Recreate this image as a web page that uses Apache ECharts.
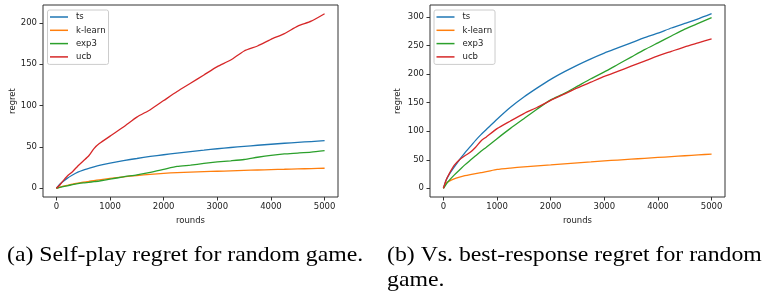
<!DOCTYPE html>
<html>
<head>
<meta charset="utf-8">
<script src="https://cdn.jsdelivr.net/npm/echarts@6/dist/echarts.min.js"></script>
<style>
html,body{margin:0;padding:0;background:#fff;}
#c{width:764px;height:294px;}
</style>
</head>
<body>
<div id="c"></div>
<script>
// ---- data ----
const rounds = [0,50,100,200,300,400,500,600,700,800,1000,1250,1500,1750,2000,2250,2500,2750,3000,3250,3500,3750,4000,4250,4500,4750,5000];
const seriesNames = ['ts','k-learn','exp3','ucb'];
const xTicks = [0,1000,2000,3000,4000,5000];
const yTicksA = [0,50,100,150,200];
const yTicksB = [0,50,100,150,200,250,300];

// (a) self-play
const tsA     = [0,4,7,12,16,19.5,22,24,26,27.8,30.5,33.5,36,38.5,40.5,42.5,44.3,46,47.8,49.3,50.7,52,53.2,54.4,55.5,56.5,57.5];
const klearnA = [0,1,2,3.5,5,6.2,7.3,8.3,9.3,10.2,12,13.8,15.4,16.9,18.1,19,19.6,20.1,20.6,21.1,21.6,22.1,22.6,23,23.4,23.8,24.2];
const exp3A   = [0,0.8,1.6,3,4.3,5.5,6.5,7.2,8,8.8,11,13.8,16.2,19.2,22.8,26.4,28,30,31.8,33.2,34.8,37.5,39.8,41.5,42.6,43.8,45.6];
const ucbA    = [0,3,7,14.5,20,27,33,39,48,54,63,74,86,95,106,117,127,137,147,155,166,172,180,187,196,202,211];

// (b) vs. best-response
const tsB     = [0,14,23,37,50,62,73,84,94,103,121,142,160,176,191,204,216,227,237,246,255,264,272,281,289,297,306];
const klearnB = [0,9,12,16.5,19.5,22,24,25.8,27.5,29,33,35.5,37.5,39.3,41,42.8,44.5,46.2,48,49.5,51,52.5,54,55.5,57,58.5,60];
const exp3B   = [0,7,13,23,32,41,49,57,65,72,87,105,122,139,155,166,179,192,204,217,230,243,255,267,279,289,299];
const ucbB    = [0,14,24,40,50,57,63,72,83,90,104.5,118,131,142,154,165,176,186,196,205,214,223,232,240,248,255,262];

const captionA = '(a) Self-play regret for random game.';
const captionB1 = '(b) Vs. best-response regret for random';
const captionB2 = 'game.';

// ---- chart ----
const colors = ['#1f77b4','#ff7f0e','#2ca02c','#d62728'];
const tickFont = {fontFamily:'DejaVu Sans', fontSize:8.5, color:'#222'};

function pairs(v){ return rounds.map((r,i)=>[r, v[i]]); }
function plain(v){ return String(v); }

function xAxis(gi){
  return {
    type:'value', gridIndex:gi, min:-250, max:5250,
    name:'rounds', nameLocation:'middle', nameGap:16,
    nameTextStyle:Object.assign({}, tickFont),
    axisLine:{show:false, onZero:false},
    axisTick:{show:true, inside:false, length:3.5, lineStyle:{color:'#333', width:1}, customValues:xTicks},
    axisLabel:Object.assign({show:true, margin:5, customValues:xTicks, formatter:plain}, tickFont),
    splitLine:{show:false}
  };
}
function yAxis(gi, min, max, ticks, gap){
  return {
    type:'value', gridIndex:gi, min:min, max:max,
    name:'regret', nameLocation:'middle', nameGap:gap, nameRotate:90,
    nameTextStyle:Object.assign({}, tickFont),
    axisLine:{show:false, onZero:false},
    axisTick:{show:true, inside:false, length:3.5, lineStyle:{color:'#333', width:1}, customValues:ticks},
    axisLabel:Object.assign({show:true, margin:6, customValues:ticks, formatter:plain}, tickFont),
    splitLine:{show:false}
  };
}
function legend(left){
  return {
    orient:'vertical', left:left, top:10,
    data:seriesNames,
    icon:'rect', itemWidth:18, itemHeight:1.5, itemGap:4.3,
    textStyle:{fontFamily:'DejaVu Sans', fontSize:8.5, color:'#222', padding:[0,0,0,3]},
    backgroundColor:'rgba(255,255,255,0.8)',
    borderColor:'#cccccc', borderWidth:1, borderRadius:2,
    padding:[2.5,3,3,2.5],
    selectedMode:false
  };
}
function line(name, gi, vals, ci){
  return {
    type:'line', name:name, xAxisIndex:gi, yAxisIndex:gi,
    data:pairs(vals), showSymbol:false, symbol:'none', smooth:0.2,
    lineStyle:{width:1.3, color:colors[ci]}, itemStyle:{color:colors[ci]},
    animation:false
  };
}

const chart = echarts.init(document.getElementById('c'), null, {renderer:'canvas'});
chart.setOption({
  animation:false,
  color:colors,
  grid:[
    {left:43, top:5, width:295, height:192, show:true, borderColor:'#333', borderWidth:1, backgroundColor:'transparent'},
    {left:430, top:5, width:295, height:192, show:true, borderColor:'#333', borderWidth:1, backgroundColor:'transparent'}
  ],
  xAxis:[xAxis(0), xAxis(1)],
  yAxis:[yAxis(0,-10.55,221.55,yTicksA,26), yAxis(1,-15.3,321.3,yTicksB,28)],
  legend:[legend(47.5), legend(434)],
  series:[
    line('ts',0,tsA,0), line('k-learn',0,klearnA,1), line('exp3',0,exp3A,2), line('ucb',0,ucbA,3),
    line('ts',1,tsB,0), line('k-learn',1,klearnB,1), line('exp3',1,exp3B,2), line('ucb',1,ucbB,3)
  ],
  graphic:[
    {type:'text', left:7, top:244, scaleX:1.08, style:{text:captionA, font:'22px "Liberation Serif"', fill:'#000'}},
    {type:'text', left:387, top:244, scaleX:1.08, style:{text:captionB1, font:'22px "Liberation Serif"', fill:'#000'}},
    {type:'text', left:387, top:269, scaleX:1.08, style:{text:captionB2, font:'22px "Liberation Serif"', fill:'#000'}}
  ]
});
</script>
</body>
</html>
